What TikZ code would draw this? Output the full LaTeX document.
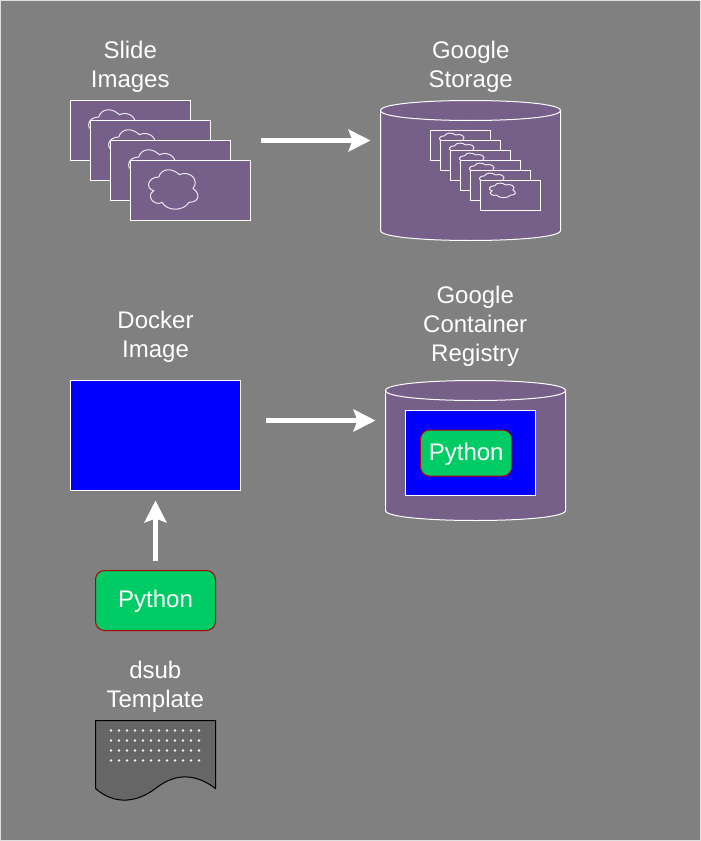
\documentclass[tikz,border=0pt]{standalone}
\usepackage{fontspec}
\setmainfont{Liberation Sans}
\usetikzlibrary{arrows.meta}
\definecolor{bgc}{HTML}{808080}
\definecolor{purp}{HTML}{76608A}
\definecolor{grn}{HTML}{00CC66}
\definecolor{pyred}{HTML}{B20000}
\definecolor{docc}{HTML}{666666}
\tikzset{
  lbl/.style={text=white,align=center,inner sep=0pt,font=\fontsize{24}{29}\selectfont},
  card/.style={draw=white,fill=purp,line width=1pt,minimum width=#1,inner sep=0pt},
  cyl/.style={draw=white,fill=purp,line width=1pt},
  blue box/.style={draw=white,fill=blue,line width=1pt,inner sep=0pt},
  pybox/.style={draw=pyred,fill=grn,text=white,line width=1pt,rounded corners=9pt,inner sep=0pt,text height=18pt,text depth=3.8pt,font=\fontsize{24}{29}\selectfont},
  bigarrow/.style={draw=white,line width=4.2pt,-{Stealth[length=22pt,width=22pt,inset=4pt]}},
}
% #1 x, #2 y, #3 w, #4 h
\newcommand{\cloudshape}[4]{%
  \begin{scope}[shift={(#1,#2)},x=#3pt,y=-#4pt]
  \draw[white!85!purp,line width=1pt] (.25,.25) .. controls (.05,.25) and (0,.5) .. (.16,.55)
    .. controls (0,.66) and (.18,.9) .. (.31,.8)
    .. controls (.4,1) and (.7,1) .. (.8,.8)
    .. controls (1,.8) and (1,.6) .. (.875,.5)
    .. controls (1,.3) and (.8,.1) .. (.625,.2)
    .. controls (.5,.05) and (.3,.05) .. (.25,.25) -- cycle;
  \end{scope}}
% #1 x, #2 y, #3 w, #4 h
\newcommand{\drumshape}[4]{%
  \begin{scope}[shift={(#1,#2)}]
  \path[cyl] (0,10) .. controls (0,-3.33) and (#3,-3.33) .. (#3,10) -- (#3,#4-10)
    .. controls (#3,#4+3.33) and (0,#4+3.33) .. (0,#4-10) -- cycle;
  \draw[cyl,fill=none] (0,10) .. controls (0,23.33) and (#3,23.33) .. (#3,10);
  \end{scope}}
\begin{document}
\begin{tikzpicture}[x=1pt,y=-1pt]
\useasboundingbox (0,0) rectangle (701,841);
\path[fill=bgc,draw=white!75!bgc,line width=1pt] (.5,.5) rectangle (700.5,840.5);

% Slide images
\foreach \d in {0,20,40,60}{
  \path[card=120pt] (70+\d,100+\d) rectangle (190+\d,160+\d);
  \cloudshape{145+\d-60}{165.5+\d-60}{55}{46}
}
\node[lbl] (slidelbl) at (130.2,67) {Slide\\Images};
\coordinate (slideout) at (260.5,140.5);
\coordinate (storein) at (370.5,140.5);
\draw[bigarrow] (slideout) -- (storein);

% Google storage
\node[lbl] (storelbl) at (470.7,67) {Google\\Storage};
\drumshape{380.5}{100.5}{180}{140}
\foreach \d in {0,10,20,30,40,50}{
  \path[card=60pt] (430.5+\d,130.5+\d) rectangle (490.5+\d,160.5+\d);
  \cloudshape{437.5+\d}{131.5+\d}{29}{17}
}

% Docker image
\node[lbl] (dockerlbl) at (155.5,337) {Docker\\Image};
\node[blue box,minimum width=170pt,minimum height=110pt] (docker) at (155.5,435.5) {};
\coordinate (dockerout) at (265.5,420.5);
\coordinate (regin) at (375.5,420.5);
\draw[bigarrow] (dockerout) -- (regin);

% Registry
\node[lbl] (reglbl) at (475.2,326.5) {Google\\Container\\Registry};
\drumshape{385.5}{380.5}{180}{140}
\node[blue box,minimum width=130pt,minimum height=85pt] (innerblue) at (470.5,453) {};
\node[pybox,minimum width=91.5pt,minimum height=46pt] (py2) at (466.2,453) {Python};

% Python
\node[pybox,minimum width=120pt,minimum height=60pt] (py1) at (155.5,600.5) {Python};
\draw[bigarrow] (py1.north|-0,560.5) coordinate (pyout) -- (docker.south|-0,500.5) coordinate (dockerin);

% dsub
\node[lbl] (dsublbl) at (155.3,687) {dsub\\Template};
\draw[draw=black,fill=docc,line width=1pt] (95.5,720.5) -- (215.5,720.5) -- (215.5,788.5)
  .. controls (195,773) and (175,773) .. (155.5,788.5)
  .. controls (135,804) and (113,804) .. (95.5,788.5) -- cycle;
\foreach \r in {730,740,750,760}{
  \foreach \c in {0,...,11}{
    \fill[white!90!docc] (111+8*\c,\r.5) circle (1.3pt);
  }
}
\end{tikzpicture}
\end{document}
